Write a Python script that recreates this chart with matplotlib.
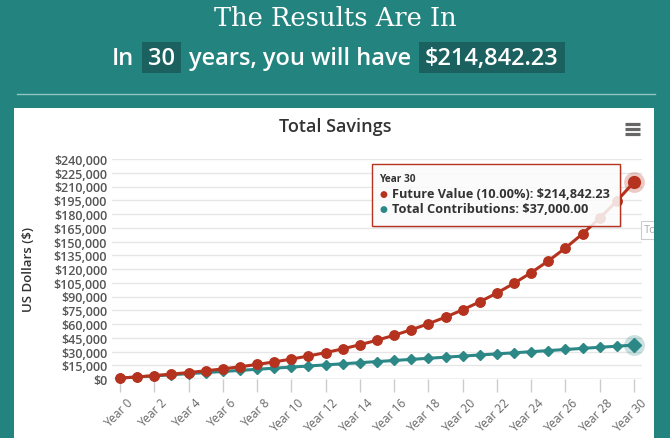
import matplotlib.pyplot as plt
import matplotlib.transforms as mtransforms
from matplotlib.patches import Rectangle
from matplotlib.lines import Line2D

# data
years = list(range(31))
year_labels = ["Year %d" % y for y in years]
future_value = [1000.00, 2300.00, 3730.00, 5303.00, 7033.30, 8936.63, 11030.29,
                13333.32, 15866.65, 18653.32, 21718.65, 25090.52, 28799.57,
                32879.53, 37367.48, 42304.23, 47734.65, 53708.11, 60278.93,
                67506.82, 75457.50, 84203.25, 93823.57, 104405.93, 116046.52,
                128851.18, 142936.29, 158429.92, 175472.92, 194220.21, 214842.23]
contributions = [1000, 2200, 3400, 4600, 5800, 7000, 8200, 9400, 10600, 11800,
                 13000, 14200, 15400, 16600, 17800, 19000, 20200, 21400, 22600,
                 23800, 25000, 26200, 27400, 28600, 29800, 31000, 32200, 33400,
                 34600, 35800, 37000]
y_ticks = list(range(0, 240001, 15000))

W, H = 670, 439
TEAL_BG = '#23837f'
BOX = '#1a615f'
RED = '#b5321f'
TEAL = '#2b8886'

plt.rcParams['font.family'] = ['Open Sans', 'DejaVu Sans']

fig = plt.figure(figsize=(W / 100, H / 100), dpi=100, facecolor=TEAL_BG)


def fx(x):
    return x / W


def fy(y):
    return 1 - y / H


# white panel and divider
panel = Rectangle((fx(14), fy(439)), fx(654) - fx(14), fy(109) - fy(439),
                  transform=fig.transFigure, facecolor='white', edgecolor='none', zorder=-5)
fig.patches.append(panel)
fig.add_artist(Line2D([fx(17), fx(655)], [fy(95), fy(95)], transform=fig.transFigure,
                      color='#8fc6c2', lw=1))

# header
fig.text(0.5, fy(18), "The Results Are In", ha='center', va='center',
         family='DejaVu Serif', fontsize=18.5, color='white')

pieces = ["In", "30", "years, you will have", "$214,842.23"]
boxed = [False, True, False, True]
txts = [fig.text(0, fy(59), p, ha='left', va='center', fontsize=17,
                 weight='semibold', color='white', zorder=3) for p in pieces]
fig.canvas.draw()
rend = fig.canvas.get_renderer()
widths = [t.get_window_extent(rend).width for t in txts]
gap, pad = 14, 6
total = sum(widths) + gap * (len(pieces) - 1)
x = (W - total) / 2
for t, w, b in zip(txts, widths, boxed):
    t.set_x(fx(x))
    if b:
        fig.patches.append(Rectangle((fx(x - pad), fy(74)), (w + 2 * pad) / W, 31 / H,
                                     transform=fig.transFigure, facecolor=BOX,
                                     edgecolor='none', zorder=2))
    x += w + gap

# chart title + menu icon
fig.text(fx(335), fy(127), "Total Savings", ha='center', va='center',
         fontsize=13, weight='semibold', color='#333333')
for yy in (125, 130, 135):
    fig.add_artist(Line2D([fx(625), fx(640)], [fy(yy), fy(yy)], transform=fig.transFigure,
                          color='#666666', lw=2.3, solid_capstyle='butt'))

# plot area
px_per_year = (634 - 120) / 30
xmin = -(120 - 112) / px_per_year
xmax = 30 + (642 - 634) / px_per_year
ax = fig.add_axes([fx(112), fy(380), fx(642) - fx(112), fy(160) - fy(380)])
ax.set_facecolor('none')
ax.set_xlim(xmin, xmax)
ax.set_ylim(0, 240000)
for s in ax.spines.values():
    s.set_visible(False)
ax.axhline(0, color='#cccccc', lw=1, zorder=1)
ax.set_yticks(y_ticks)
ax.set_yticklabels(["${:,}".format(v) for v in y_ticks])
ax.yaxis.grid(True, color='#e6e6e6', lw=1)
ax.set_axisbelow(True)
ax.tick_params(axis='y', length=0, pad=3.5, labelsize=9, labelcolor='#555555')
for lab in ax.get_yticklabels():
    lab.set_fontweight('semibold')
ax.set_xticks(years[::2])
ax.set_xticklabels(year_labels[::2], rotation=45, ha='right', rotation_mode='anchor')
ax.tick_params(axis='x', length=9, width=1, color='#cccccc', pad=3,
               labelsize=8.5, labelcolor='#666666')
shift = mtransforms.ScaledTranslation(0.06, 0.0, fig.dpi_scale_trans)
for lab in ax.get_xticklabels():
    lab.set_transform(lab.get_transform() + shift)
ax.set_ylabel("US Dollars ($)", fontsize=9.5, weight='semibold', color='#333333')
ax.yaxis.set_label_coords(-(112 - 35) / (642 - 112), 0.5)

ax.plot(years, contributions, color=TEAL, lw=2.2, marker='D', markersize=5.5,
        zorder=3, clip_on=False)
ax.plot(years, future_value, color=RED, lw=2.2, marker='o', markersize=6.8,
        zorder=4, clip_on=False)
# hover halos on last points
ax.plot(years[-1], future_value[-1], 'o', color=RED, markersize=15, alpha=0.25,
        mec='none', zorder=5, clip_on=False)
ax.plot(years[-1], future_value[-1], 'o', color=RED, markersize=8.5, zorder=6, clip_on=False)
ax.plot(years[-1], contributions[-1], 'o', color=TEAL, markersize=15, alpha=0.25,
        mec='none', zorder=5, clip_on=False)
ax.plot(years[-1], contributions[-1], 'D', color=TEAL, markersize=7.5, zorder=6, clip_on=False)

# tooltip
fig.patches.append(Rectangle((fx(374), fy(229)), (622 - 374) / W, (229 - 167) / H,
                             transform=fig.transFigure, facecolor='#000000', alpha=0.08,
                             edgecolor='none', zorder=7))
fig.patches.append(Rectangle((fx(372), fy(227)), (620 - 372) / W, (227 - 165) / H,
                             transform=fig.transFigure, facecolor='white', alpha=0.85,
                             edgecolor='none', zorder=8))
fig.patches.append(Rectangle((fx(372), fy(227)), (620 - 372) / W, (227 - 165) / H,
                             transform=fig.transFigure, facecolor='none',
                             edgecolor='#b5321f', lw=1, zorder=9))
fig.text(fx(379), fy(180), "Year 30", ha='left', va='center', fontsize=7.3,
         weight='bold', color='#333333', zorder=10)
fig.text(fx(379), fy(195), "\u25cf", ha='left', va='center', fontsize=6.5,
         color=RED, zorder=10)
fig.text(fx(392), fy(195), "Future Value (10.00%): $214,842.23", ha='left', va='center',
         fontsize=9.2, weight='bold', color='#333333', zorder=10)
fig.text(fx(379), fy(210), "\u25cf", ha='left', va='center', fontsize=6.5,
         color=TEAL, zorder=10)
fig.text(fx(392), fy(210), "Total Contributions: $37,000.00", ha='left', va='center',
         fontsize=9.2, weight='bold', color='#333333', zorder=10)

# clipped second tooltip peeking at the edge
peek = Rectangle((fx(641), fy(240)), (660 - 641) / W, (240 - 222) / H,
                 transform=fig.transFigure, facecolor='white', edgecolor='#cccccc',
                 lw=0.8, zorder=7)
fig.patches.append(peek)
peek.set_clip_path(panel)
t = fig.text(fx(644), fy(231), "Tot", ha='left', va='center', fontsize=8,
             color='#aaaaaa', zorder=8)
t.set_clip_path(panel)

fig.savefig("out.png", dpi=100, facecolor=TEAL_BG)
